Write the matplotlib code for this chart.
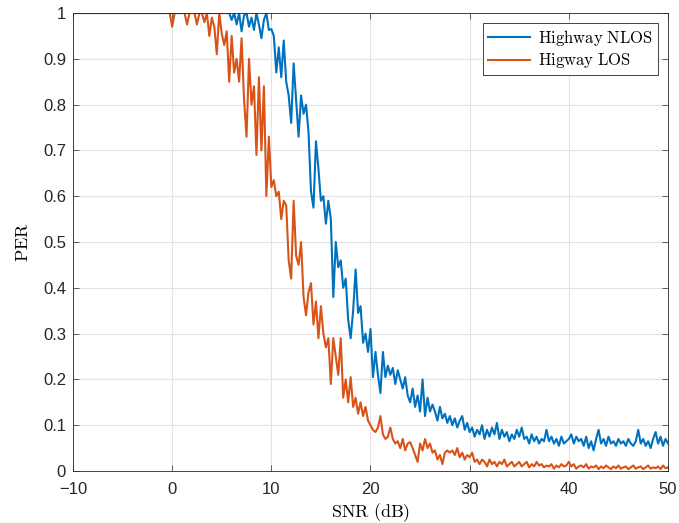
import matplotlib
matplotlib.use('Agg')
import matplotlib.pyplot as plt
import numpy as np

# SNR axis, 0.25 dB steps
snr = np.arange(-10, 50.01, 0.25)

# PER - Highway NLOS
per_nlos = [
    1.0, 1.0, 1.0, 1.0, 1.0, 1.0, 1.0, 1.0, 1.0, 1.0, 1.0, 1.0, 1.0, 1.0, 1.0, 1.0,
    1.0, 1.0, 1.0, 1.0, 1.0, 1.0, 1.0, 1.0, 1.0, 1.0, 1.0, 1.0, 1.0, 1.0, 1.0, 1.0,
    1.0, 1.0, 1.0, 1.0, 1.0, 1.0, 1.0, 1.0, 1.0, 1.0, 1.0, 1.0, 1.0, 1.0, 1.0, 1.0,
    1.0, 1.0, 1.0, 1.0, 1.0, 1.0, 1.0, 1.0, 1.0, 1.0, 1.0, 1.0, 1.0, 1.0, 1.0, 1.0,
    # 6.0 dB ->
    0.985, 1.0, 0.975, 1.0, 0.96, 0.995, 1.0, 0.97, 0.99, 0.963, 1.0, 0.975,
    0.945, 0.985, 1.0, 0.963, 0.965, 0.95, 0.87, 0.925, 0.86, 0.94, 0.85, 0.82,
    0.76, 0.89, 0.81, 0.73, 0.82, 0.78, 0.80, 0.74, 0.61, 0.575, 0.72, 0.66,
    0.59, 0.60, 0.54, 0.59, 0.55, 0.38, 0.50, 0.445, 0.46, 0.40, 0.42, 0.33,
    0.29, 0.35, 0.44, 0.345, 0.36, 0.28, 0.30, 0.26, 0.31, 0.205, 0.26, 0.21,
    0.17, 0.26, 0.205, 0.23, 0.21, 0.225, 0.19, 0.22, 0.20, 0.18, 0.205, 0.165,
    0.15, 0.18, 0.14, 0.165, 0.13, 0.20, 0.12, 0.16, 0.13, 0.145, 0.13, 0.11,
    0.14, 0.115, 0.125, 0.105, 0.12, 0.10, 0.115, 0.095, 0.11, 0.12, 0.09, 0.105,
    0.085, 0.095, 0.075, 0.09, 0.08, 0.10, 0.07, 0.09, 0.075, 0.095, 0.08, 0.105,
    0.07, 0.09, 0.075, 0.085, 0.065, 0.08, 0.07, 0.09, 0.075, 0.095, 0.07, 0.075,
    0.06, 0.08, 0.065, 0.075, 0.06, 0.07, 0.065, 0.09, 0.065, 0.075, 0.06, 0.07,
    0.055, 0.075, 0.06, 0.065, 0.07, 0.08, 0.06, 0.075, 0.065, 0.07, 0.055, 0.075,
    0.05, 0.065, 0.045, 0.07, 0.09, 0.06, 0.07, 0.055, 0.075, 0.06, 0.065, 0.055,
    0.07, 0.06, 0.065, 0.055, 0.07, 0.06, 0.055, 0.065, 0.09, 0.06, 0.07, 0.055,
    0.065, 0.05, 0.07, 0.085, 0.06, 0.075, 0.055, 0.07, 0.06,
]

# PER - Highway LOS
per_los = [
    1.0, 1.0, 1.0, 1.0, 1.0, 1.0, 1.0, 1.0, 1.0, 1.0, 1.0, 1.0, 1.0, 1.0, 1.0, 1.0,
    1.0, 1.0, 1.0, 1.0, 1.0, 1.0, 1.0, 1.0, 1.0, 1.0, 1.0, 1.0, 1.0, 1.0, 1.0, 1.0,
    1.0, 1.0, 1.0, 1.0, 1.0, 1.0, 1.0, 1.0,
    # 0.0 dB ->
    0.97, 1.0, 1.0, 1.0, 1.0, 1.0, 0.975, 1.0, 1.0, 1.0, 0.975, 1.0,
    1.0, 0.98, 1.0, 0.95, 0.99, 0.97, 0.91, 1.0, 0.955, 0.93, 0.96, 0.85,
    0.95, 0.87, 0.90, 0.85, 0.945, 0.81, 0.73, 0.90, 0.80, 0.84, 0.69, 0.86,
    0.70, 0.84, 0.60, 0.73, 0.62, 0.635, 0.60, 0.61, 0.55, 0.59, 0.58, 0.46,
    0.42, 0.59, 0.47, 0.45, 0.50, 0.38, 0.34, 0.39, 0.41, 0.32, 0.37, 0.29,
    0.36, 0.30, 0.27, 0.29, 0.19, 0.29, 0.25, 0.21, 0.29, 0.16, 0.20, 0.15,
    0.205, 0.14, 0.16, 0.125, 0.15, 0.12, 0.14, 0.11, 0.10, 0.09, 0.085, 0.095,
    0.12, 0.08, 0.07, 0.075, 0.095, 0.07, 0.06, 0.065, 0.05, 0.07, 0.045, 0.06,
    0.063, 0.05, 0.035, 0.02, 0.06, 0.045, 0.07, 0.05, 0.06, 0.04, 0.045, 0.025,
    0.035, 0.015, 0.04, 0.045, 0.04, 0.045, 0.035, 0.05, 0.03, 0.04, 0.025, 0.035,
    0.03, 0.04, 0.02, 0.025, 0.015, 0.025, 0.02, 0.01, 0.025, 0.015, 0.02, 0.01,
    0.02, 0.015, 0.025, 0.01, 0.015, 0.02, 0.01, 0.015, 0.02, 0.01, 0.015, 0.02,
    0.008, 0.015, 0.01, 0.02, 0.012, 0.015, 0.008, 0.012, 0.01, 0.015, 0.005, 0.012,
    0.008, 0.015, 0.01, 0.012, 0.02, 0.01, 0.015, 0.005, 0.01, 0.012, 0.008, 0.015,
    0.005, 0.01, 0.008, 0.012, 0.004, 0.01, 0.006, 0.012, 0.008, 0.004, 0.01, 0.006,
    0.012, 0.005, 0.008, 0.01, 0.004, 0.008, 0.012, 0.005, 0.008, 0.01, 0.004, 0.008,
    0.012, 0.005, 0.008, 0.006, 0.01, 0.004, 0.012, 0.006, 0.008,
]

labels = [r'$\mathrm{Highway\ NLOS}$', r'$\mathrm{Higway\ LOS}$']
xticks = [-10, 0, 10, 20, 30, 40, 50]
yticks = np.arange(0, 1.01, 0.1)
ytick_labels = ['0', '0.1', '0.2', '0.3', '0.4', '0.5', '0.6', '0.7', '0.8', '0.9', '1']

plt.rcParams['font.family'] = ['Liberation Sans', 'DejaVu Sans']
plt.rcParams['mathtext.fontset'] = 'cm'

fig = plt.figure(figsize=(6.79, 5.23), dpi=100)
ax = fig.add_axes([0.1075, 0.0994, 0.8763, 0.8757])

ax.plot(snr, per_nlos, color='#0072BD', lw=1.5, label=labels[0])
ax.plot(snr, per_los, color='#D95319', lw=1.5, label=labels[1])

ax.set_xlim(-10, 50)
ax.set_ylim(0, 1)
ax.set_xticks(xticks)
ax.set_yticks(yticks)
ax.set_yticklabels(ytick_labels)
ax.tick_params(direction='in', length=4, width=0.5, labelsize=12, colors='#262626',
               top=True, right=True)
ax.tick_params(axis='x', pad=8)
ax.tick_params(axis='y', pad=5)
ax.grid(True, color='#e3e3e3', lw=0.8)
ax.set_axisbelow(True)
for s in ax.spines.values():
    s.set_color('#262626')
    s.set_linewidth(0.6)

ax.set_xlabel(r'$\mathrm{SNR\ (dB)}$', fontsize=13, labelpad=3)
ax.set_ylabel(r'$\mathrm{PER}$', fontsize=13, labelpad=8)

leg = ax.legend(loc='upper right', fontsize=12, fancybox=False, framealpha=1,
                edgecolor='#262626', borderaxespad=0.6, handlelength=2.5,
                borderpad=0.3, labelspacing=0.2, handletextpad=0.5)
leg.get_frame().set_linewidth(0.6)

fig.savefig('out.png', dpi=100)
